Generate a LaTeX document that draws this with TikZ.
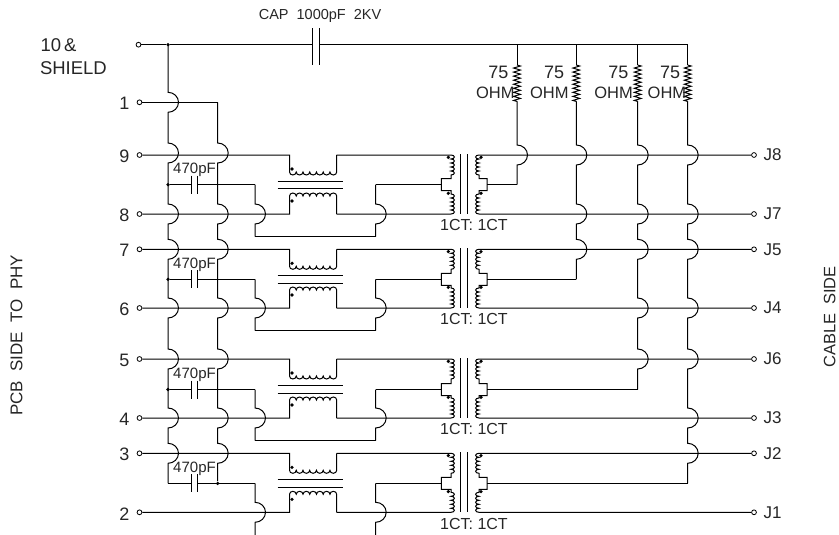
\documentclass[tikz,border=0pt]{standalone}
\usepackage{xcolor}
\usepackage{fontspec}
\setmainfont{Liberation Sans}
\usetikzlibrary{positioning,decorations.pathmorphing}

% wire running down a column, jumping over the listed rows
\newcommand{\hopline}[4]{\draw (#1) \foreach \hr in {#3} { -- (#2,\hr-10) arc[start angle=90,end angle=-90,x radius=10.5pt,y radius=10pt] } -- (#4);}
\newcommand{\fs}[1]{\fontsize{#1}{#1}\selectfont}

\begin{document}
\begin{tikzpicture}[
    x=1pt, y=-1pt,
    line width=1pt,
    term/.style={circle, draw, fill=white, inner sep=0pt, minimum size=4.8pt, line width=.8pt},
    dot/.style={circle, fill=black, inner sep=0pt, minimum size=3.6pt},
    txt/.style={text=black!85, inner sep=0pt},
    pinlabel/.style={txt, font=\fs{18}},
    jlabel/.style={txt, font=\fs{17}, anchor=west},
    valuelabel/.style={txt, font=\fs{15}, anchor=base},
    ratio/.style={txt, font=\fs{16}, anchor=base},
    ohmlabel/.style={txt, anchor=base east},
    res/.style={decorate, decoration={zigzag, segment length=4.05pt, amplitude=3.4pt}},
    corewire/.style={line width=.9pt}
]
\useasboundingbox (0,0) rectangle (839,535);

% Side titles
\node[txt, font=\fs{17}, rotate=90] (pcbside) at (16.4,335.3) {PCB\ \ SIDE\ \ TO\ \ PHY};
\node[txt, font=\fs{16.5}, rotate=90] (cableside) at (829.8,317) {CABLE\ \ SIDE};

% Pins
\node[term] (p10) at (138.5,44.7) {};
\node[txt, font=\fs{18.5}, anchor=base west] (shieldtop) at (40,51.7) {10\,\&};
\node[txt, font=\fs{18.5}, anchor=base west] (shieldbot) at (39.5,75) {SHIELD};
\foreach \n/\y in {1/102.3,9/155,8/214,7/249.3,6/308,5/359,4/418,3/453.3,2/512.3} {
    \node[term] (p\n) at (139.5,\y) {};
    \node[pinlabel] (lp\n) at (124.5,\y+1.5) {\n};
}
\foreach \n/\y in {8/155,7/214,5/249.3,4/308,6/359,3/418,2/453.3,1/512.3} {
    \node[term] (j\n) at (754,\y) {};
    \node[jlabel] (lj\n) at (763,\y) {J\n};
}

% Shield line and its capacitor
\node[dot] (shield) at (168,44.7) {};
\node[txt, font=\fs{14.5}, anchor=base west] (caplabel) at (258.3,20) {CAP\ \ 1000pF\ \ 2KV};
\coordinate (capl) at (312,44.7);
\coordinate (capr) at (319.3,44.7);
\coordinate (top1) at (517,44.7);
\coordinate (top2) at (576.3,44.7);
\coordinate (top3) at (637.7,44.7);
\coordinate (top4) at (687.7,44.7);
\draw (p10) -- (shield) -- (capl);
\draw (capr) -- (top4);
\draw (312,28.3) -- (312,65);
\draw (319.3,28.3) -- (319.3,65);

% Four pairs
\foreach \g/\pa/\pb/\ja/\jb/\yt/\yb/\yc/\vx in {
    a/9/8/8/7/155/214/184.7/517,
    b/7/6/5/4/249.3/308/279.3/576.3,
    c/5/4/6/3/359/418/389.5/637.7,
    d/3/2/2/1/453.3/512.3/483.4/687.7} {
    \coordinate (\g-pt) at (289.5,\yt);
    \coordinate (\g-pb) at (289.5,\yb);
    \coordinate (\g-qt) at (336.7,\yt);
    \coordinate (\g-qb) at (336.7,\yb);
    \coordinate (\g-st) at (451,\yt);
    \coordinate (\g-sb) at (451,\yb);
    \coordinate (\g-ut) at (479,\yt);
    \coordinate (\g-ub) at (479,\yb);
    \coordinate (\g-cl) at (191,\yc);
    \coordinate (\g-cr) at (197.6,\yc);
    \coordinate (\g-lc) at (255,\yc);
    \coordinate (\g-rc) at (375.7,\yc);
    \coordinate (\g-ld) at (255,\yb+22.7);
    \coordinate (\g-rd) at (375.7,\yb+22.7);
    \coordinate (\g-tl) at (441.3,\yc);
    \coordinate (\g-tr) at (487,\yc);
    \coordinate (\g-vc) at (\vx,\yc);

    % horizontal transformer
    \draw (p\pa) -- (\g-pt) -- (289.5,\yt+17)
        \foreach \i in {1,...,7} {arc[start angle=180,end angle=360,x radius=3.37pt,y radius=3pt]} -- (\g-qt);
    \draw (p\pb) -- (\g-pb) -- (289.5,\yb-18)
        \foreach \i in {1,...,7} {arc[start angle=180,end angle=0,x radius=3.37pt,y radius=3pt]} -- (\g-qb);
    \draw[corewire] (277.7,\yc-3.7) -- (342.5,\yc-3.7);
    \draw[corewire] (277.7,\yc+3.7) -- (342.5,\yc+3.7);
    \node[dot] (\g-d1) at (292,\yt+14) {};
    \node[dot] (\g-d2) at (292,\yb-13) {};

    % 1CT: 1CT transformer
    \draw (\g-qt) -- (\g-st)
        \foreach \i in {1,...,5} {arc[start angle=90,end angle=-90,x radius=3.4pt,y radius=2pt]}
        -- (451,\yc-6) -- (441.3,\yc-6) -- (441.3,\yc+6) -- (451,\yc+6) -- (451,\yb-20)
        \foreach \i in {1,...,5} {arc[start angle=90,end angle=-90,x radius=3.4pt,y radius=2pt]} -- (\g-qb);
    \draw (j\ja) -- (\g-ut)
        \foreach \i in {1,...,5} {arc[start angle=90,end angle=270,x radius=3.4pt,y radius=2pt]}
        -- (479,\yc-6) -- (487,\yc-6) -- (487,\yc+6) -- (479,\yc+6) -- (479,\yb-20)
        \foreach \i in {1,...,5} {arc[start angle=90,end angle=270,x radius=3.4pt,y radius=2pt]} -- (j\jb);
    \draw[corewire] (460.7,\yt-1) -- (460.7,\yb);
    \draw[corewire] (467.3,\yt-1) -- (467.3,\yb);
    \node[dot] (\g-d3) at (448.3,\yt+2.3) {};
    \node[dot] (\g-d4) at (448.3,\yb-20.7) {};
    \node[dot] (\g-d5) at (481,\yt+2.3) {};
    \node[dot] (\g-d6) at (481,\yb-20.7) {};
    \node[ratio] (\g-ratio) at (474,\yb+16.7) {1CT: 1CT};

    % centre tap wires
    \draw (\g-cr) -- (\g-lc);
    \hopline{\g-lc}{255}{\yb}{\g-ld}
    \draw (\g-ld) -- (\g-rd);
    \hopline{\g-rc}{375.7}{\yb}{\g-rd}
    \draw (\g-rc) -- (\g-tl);
    \draw (\g-tr) -- (\g-vc);

    % pair capacitor
    \draw (191,\yc-9) -- (191,\yc+9);
    \draw (197.6,\yc-9) -- (197.6,\yc+9);
    \node[valuelabel] (\g-value) at (194.5,\yc-11) {470pF};
}

% Capacitors to the first bus
\foreach \g/\y in {a/184.7,b/279.3,c/389.5} {
    \node[dot] (\g-jn) at (168,\y) {};
    \draw (\g-jn) -- (\g-cl);
}
\coordinate (buscorner) at (168,483.4);
\draw (buscorner) -- (d-cl);
\node[dot] (busdot) at (217.7,483.4) {};

% Buses on the PCB side
\coordinate (busstart) at (168,44.7);
\coordinate (bustop) at (217.7,102.3);
\draw (p1) -- (bustop);
\hopline{busstart}{168}{102.3,153,214,249.3,308,359,418,453.3}{buscorner}
\hopline{bustop}{217.7}{153,214,249.3,308,359,418,453.3}{busdot}

% Resistors and columns on the cable side
\foreach \k/\x/\xa/\xo in {1/517/509/515,2/576.3/564.7/569,3/637.7/629/633.3,4/687.7/680.7/686.7} {
    \coordinate (res\k a) at (\x,65);
    \coordinate (res\k b) at (\x,101.5);
    \draw (top\k) -- (res\k a);
    \draw[res] (res\k a) -- (res\k b);
    \node[ohmlabel, font=\fs{18}] (val\k) at (\xa,79) {75};
    \node[ohmlabel, font=\fs{16.5}] (ohm\k) at (\xo,99) {OHM};
}
\hopline{res1b}{517}{155}{a-vc}
\hopline{res2b}{576.3}{155,214,249.3}{b-vc}
\hopline{res3b}{637.7}{155,214,249.3,308,359}{c-vc}
\hopline{res4b}{687.7}{155,214,249.3,308,359,418,453.3}{d-vc}

\end{tikzpicture}
\end{document}
